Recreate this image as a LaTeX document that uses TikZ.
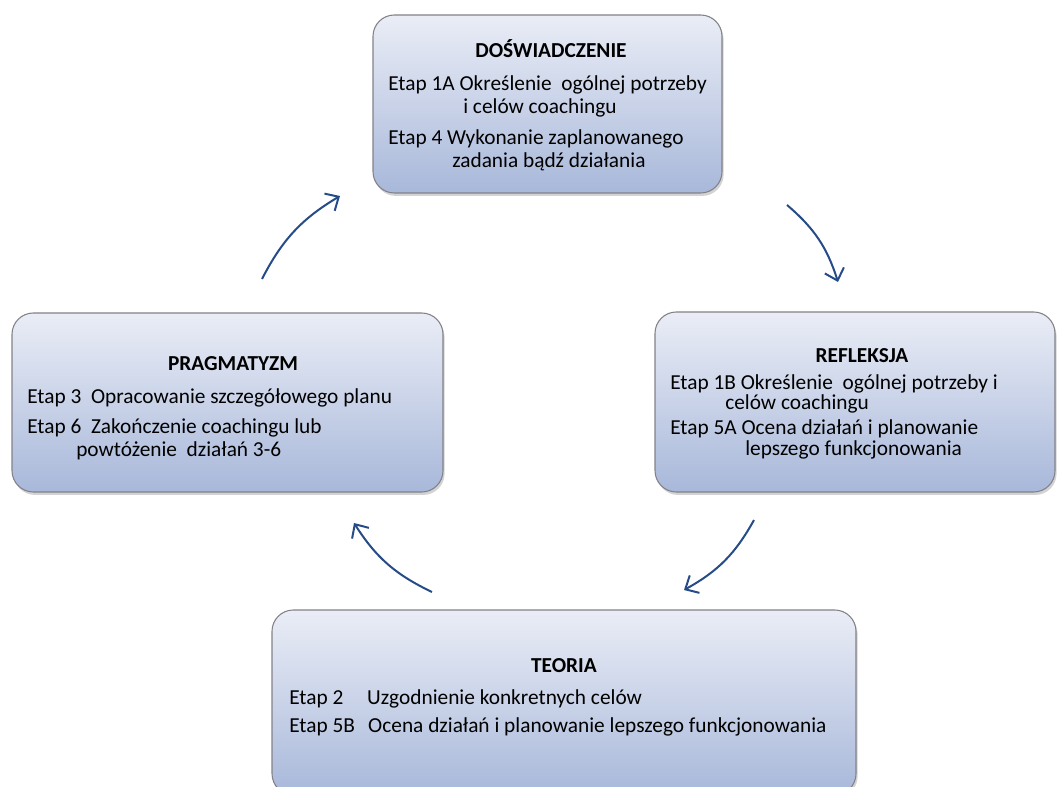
\documentclass[tikz,border=0pt]{standalone}
\usepackage{fontspec}
\setmainfont{Carlito}
\usetikzlibrary{shapes,arrows.meta,positioning,shadows}
\definecolor{boxtop}{RGB}{234,237,246}
\definecolor{boxbottom}{RGB}{168,184,218}
\definecolor{boxedge}{RGB}{130,130,136}
\definecolor{arrowblue}{RGB}{38,76,135}
\newlength{\px}
\setlength{\px}{0.75pt}

\begin{document}
\begin{tikzpicture}[x=0.75pt,y=-0.75pt,
  stage/.style={draw=boxedge,line width=0.8pt,rounded corners=16pt,top color=boxtop,bottom color=boxbottom,
    drop shadow={opacity=0.35,shadow xshift=1.2pt,shadow yshift=-2.2pt}},
  stagetitle/.style={font=\fontsize{16}{17.25}\selectfont\bfseries,anchor=base,inner sep=0pt},
  stagetext/.style={font=\fontsize{16}{17.25}\selectfont,align=left,anchor=north west,inner sep=0pt},
  looparrow/.style={draw=arrowblue,line width=1.5pt,-{Straight Barb[length=8pt,width=15pt]},bend left=16}]
\clip (0,0) rectangle (1060,787);

% Doswiadczenie
\node[stage,minimum width=349\px,minimum height=178\px] (dosw) at (547.5,104) {};
\node[stagetitle] (doswtitle) at (551,58) {DOŚWIADCZENIE};
\node[stagetext] (doswtext) at (388,75.5) {Etap 1A Określenie~ ogólnej potrzeby\\
  \hspace*{75\px}i celów coachingu\\[8\px]
  Etap 4 Wykonanie zaplanowanego\\
  \hspace*{64\px}zadania bądź działania};

% Refleksja
\node[stage,minimum width=400\px,minimum height=180\px] (refl) at (855,402) {};
\node[stagetitle] (refltitle) at (862,363) {REFLEKSJA};
\node[stagetext,font=\fontsize{16}{15.5}\selectfont] (refltext) at (670,374) {Etap 1B Określenie~ ogólnej potrzeby i\\
  \hspace*{55\px}celów coachingu\\[4\px]
  Etap 5A Ocena działań i planowanie\\
  \hspace*{75\px}lepszego funkcjonowania};

% Teoria
\node[stage,minimum width=584\px,minimum height=185\px] (teor) at (564,702.5) {};
\node[stagetitle] (teortitle) at (564,672) {TEORIA};
\node[stagetext,font=\fontsize{16}{21}\selectfont] (teortext) at (289,689) {\makebox[78\px][l]{Etap 2}Uzgodnienie konkretnych celów\\
  \makebox[79\px][l]{Etap 5B}Ocena działań i planowanie lepszego funkcjonowania};

% Pragmatyzm
\node[stage,minimum width=431\px,minimum height=179\px] (prag) at (227.5,402.5) {};
\node[stagetitle] (pragtitle) at (233,371) {PRAGMATYZM};
\node[stagetext] (pragtext) at (27,388) {Etap 3~ Opracowanie szczegółowego planu\\[7\px]
  Etap 6~ Zakończenie coachingu lub\\
  \hspace*{49\px}powtóżenie~ działań 3-6};

% arrows of the cycle
\coordinate (p2d) at (262,279);
\coordinate (d2p) at (340,196);
\coordinate (d2r) at (787,205);
\coordinate (r2d) at (838,282);
\coordinate (r2t) at (754,520);
\coordinate (t2r) at (684,590);
\coordinate (t2p) at (432,592);
\coordinate (p2t) at (354,523);
\draw[looparrow] (p2d) to (d2p);
\draw[looparrow] (d2r) to (r2d);
\draw[looparrow] (r2t) to (t2r);
\draw[looparrow] (t2p) to (p2t);
\end{tikzpicture}
\end{document}
